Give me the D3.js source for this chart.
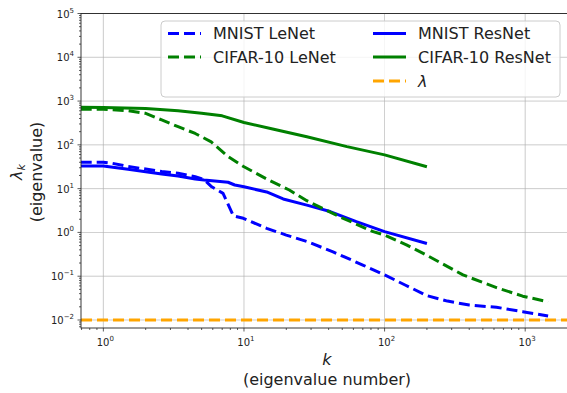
<!DOCTYPE html>
<html><head><meta charset="utf-8">
<script src="https://cdn.jsdelivr.net/npm/d3@7"></script>
<style>
html,body{margin:0;padding:0;background:#fff;}
svg{display:block;font-family:"DejaVu Sans",sans-serif;}
</style></head>
<body><svg id="c" width="567" height="393"></svg>
<script>
// ---- data ----
const mnistLeNetK = [0.69, 1, 1.15, 1.5, 2, 2.6, 3.4, 4.5, 5.2, 5.9, 7.1, 8.4, 9.9, 14.5, 20, 28, 43, 70, 100, 140, 200, 280, 400, 625, 960, 1455];
const mnistLeNetV = [40, 40, 38, 32, 28, 24.5, 22.5, 18.7, 16.2, 11, 7.8, 2.4, 2.1, 1.24, 0.87, 0.62, 0.36, 0.18, 0.107, 0.063, 0.036, 0.027, 0.022, 0.0195, 0.0155, 0.0123];

const mnistResNetK = [0.69, 1, 1.5, 2, 2.6, 3.4, 4.5, 5.2, 7.7, 8.6, 10, 14.5, 19, 28, 41, 63, 100, 200];
const mnistResNetV = [33, 33, 27.6, 24.4, 21.6, 19.4, 16.6, 15.7, 14, 12.1, 11, 8.4, 5.8, 4.2, 3.0, 1.76, 1.04, 0.56];

const cifarLeNetK = [0.69, 1, 1.5, 2, 2.6, 3.4, 4.5, 5.85, 7.7, 10, 15, 21, 28, 48, 83, 100, 143, 200, 361, 625, 960, 1455];
const cifarLeNetV = [650, 650, 600, 525, 370, 260, 182, 117, 54, 31.6, 15.7, 9.3, 5.3, 2.28, 1.04, 0.87, 0.52, 0.30, 0.107, 0.055, 0.035, 0.026];

const cifarResNetK = [0.69, 1, 2, 3.4, 5, 7, 10, 16, 28, 54, 100, 200];
const cifarResNetV = [720, 710, 680, 600, 530, 460, 325, 230, 153, 91, 59, 31.6];

const lambdaValue = 0.01;

const xTickExps = [0, 1, 2, 3];
const yTickExps = [-2, -1, 0, 1, 2, 3, 4, 5];

const seriesNames = ["MNIST LeNet", "CIFAR-10 LeNet", "MNIST ResNet", "CIFAR-10 ResNet", "λ"];

// ---- layout ----
const svg = d3.select("#c");
const L = 81, R = 573, T = 13.5, B = 328;
const x = d3.scaleLog().domain([Math.pow(10, -0.159), Math.pow(10, 3.34)]).range([L, R]);
const y = d3.scaleLog().domain([Math.pow(10, -2.183), 1e5]).range([B, T]);

const BLUE = "#0000ff", GREEN = "#008000", ORANGE = "#ffa500";
const TXT = "#222";

svg.append("defs").append("clipPath").attr("id", "clip")
  .append("rect").attr("x", L).attr("y", T).attr("width", R - L).attr("height", B - T);

// grid
const grid = svg.append("g");
xTickExps.forEach(e => {
  grid.append("line").attr("x1", x(Math.pow(10, e))).attr("x2", x(Math.pow(10, e)))
    .attr("y1", T).attr("y2", B).attr("stroke", "#b0b0b0").attr("stroke-width", 0.8).attr("opacity", 0.8);
});
yTickExps.forEach(e => {
  grid.append("line").attr("y1", y(Math.pow(10, e))).attr("y2", y(Math.pow(10, e)))
    .attr("x1", L).attr("x2", R).attr("stroke", "#b0b0b0").attr("stroke-width", 0.8).attr("opacity", 0.8);
});

// lines
const plot = svg.append("g").attr("clip-path", "url(#clip)");
const line = d3.line().x(d => x(d[0])).y(d => y(d[1]));
const zip = (a, b) => a.map((v, i) => [v, b[i]]);

function drawLine(data, color, dashed) {
  plot.append("path").datum(data).attr("d", line)
    .attr("fill", "none").attr("stroke", color).attr("stroke-width", 3)
    .attr("stroke-linejoin", "round")
    .attr("stroke-dasharray", dashed ? "11,5" : null);
}
drawLine(zip(cifarResNetK, cifarResNetV), GREEN, false);
drawLine(zip(mnistResNetK, mnistResNetV), BLUE, false);
drawLine(zip(cifarLeNetK, cifarLeNetV), GREEN, true);
drawLine(zip(mnistLeNetK, mnistLeNetV), BLUE, true);
plot.append("line").attr("x1", L).attr("x2", R).attr("y1", y(lambdaValue)).attr("y2", y(lambdaValue))
  .attr("stroke", ORANGE).attr("stroke-width", 3).attr("stroke-dasharray", "11,5");

// axes (custom log ticks with superscripts)
const ax = svg.append("g");
const xd = x.domain(), yd = y.domain();
for (let e = -1; e <= 4; e++) {
  for (let m = 1; m <= 9; m++) {
    const v = m * Math.pow(10, e);
    if (v >= xd[0] && v <= xd[1]) {
      const len = m === 1 ? 3.5 : 2;
      ax.append("line").attr("x1", x(v)).attr("x2", x(v)).attr("y1", B).attr("y2", B + len)
        .attr("stroke", "#333").attr("stroke-width", 0.8);
    }
  }
}
for (let e = -3; e <= 5; e++) {
  for (let m = 1; m <= 9; m++) {
    const v = m * Math.pow(10, e);
    if (v >= yd[0] * 0.999 && v <= yd[1] * 1.001) {
      const len = m === 1 ? 3.5 : 2;
      ax.append("line").attr("x1", L - len).attr("x2", L).attr("y1", y(v)).attr("y2", y(v))
        .attr("stroke", "#333").attr("stroke-width", 0.8);
    }
  }
}
function supLabel(g, e) {
  g.append("tspan").text("10");
  g.append("tspan").attr("font-size", 7).attr("dy", -5).text(e < 0 ? "\u2212" + (-e) : e);
}
xTickExps.forEach(e => {
  const t = ax.append("text").attr("x", x(Math.pow(10, e)) + 2).attr("y", 346)
    .attr("text-anchor", "middle").attr("font-size", 10).attr("fill", TXT);
  supLabel(t, e);
});
yTickExps.forEach(e => {
  const t = ax.append("text").attr("x", 74).attr("y", y(Math.pow(10, e)) + 4)
    .attr("text-anchor", "end").attr("font-size", 10).attr("fill", TXT);
  supLabel(t, e);
});

// spines
ax.append("rect").attr("x", L).attr("y", T).attr("width", R - L).attr("height", B - T)
  .attr("fill", "none").attr("stroke", "#222").attr("stroke-width", 0.9);

// axis labels
svg.append("text").attr("x", (L + R) / 2).attr("y", 365).attr("text-anchor", "middle")
  .attr("font-size", 16).attr("fill", TXT).attr("font-style", "italic").text("k");
svg.append("text").attr("x", (L + R) / 2).attr("y", 385).attr("text-anchor", "middle")
  .attr("font-size", 16).attr("fill", TXT).text("(eigenvalue number)");

const yl = svg.append("text").attr("transform", "translate(22,172) rotate(-90)")
  .attr("text-anchor", "middle").attr("font-size", 16).attr("fill", TXT);
yl.append("tspan").attr("font-style", "italic").text("λ");
yl.append("tspan").attr("font-style", "italic").attr("font-size", 11).attr("dy", 3).text("k");
svg.append("text").attr("transform", "translate(42,172) rotate(-90)")
  .attr("text-anchor", "middle").attr("font-size", 16).attr("fill", TXT).text("(eigenvalue)");

// legend
const lg = svg.append("g");
lg.append("rect").attr("x", 161).attr("y", 21).attr("width", 399).attr("height", 76).attr("rx", 4)
  .attr("fill", "#fff").attr("fill-opacity", 0.8).attr("stroke", "#cccccc").attr("stroke-width", 1);
const legendItems = [
  {name: seriesNames[0], color: BLUE, dashed: true, col: 0, row: 0},
  {name: seriesNames[1], color: GREEN, dashed: true, col: 0, row: 1},
  {name: seriesNames[2], color: BLUE, dashed: false, col: 1, row: 0},
  {name: seriesNames[3], color: GREEN, dashed: false, col: 1, row: 1},
  {name: seriesNames[4], color: ORANGE, dashed: true, col: 1, row: 2, italic: true}
];
const colX = [168, 373], rowY = [33.5, 57, 81];
legendItems.forEach(it => {
  const x0 = colX[it.col], yy = rowY[it.row];
  lg.append("line").attr("x1", x0).attr("x2", x0 + 33).attr("y1", yy).attr("y2", yy)
    .attr("stroke", it.color).attr("stroke-width", 3)
    .attr("stroke-dasharray", it.dashed ? "11,5" : null);
  lg.append("text").attr("x", x0 + 45).attr("y", yy + 5.8).attr("font-size", 16).attr("fill", TXT)
    .attr("font-style", it.italic ? "italic" : null).text(it.name);
});
</script>
</body></html>
